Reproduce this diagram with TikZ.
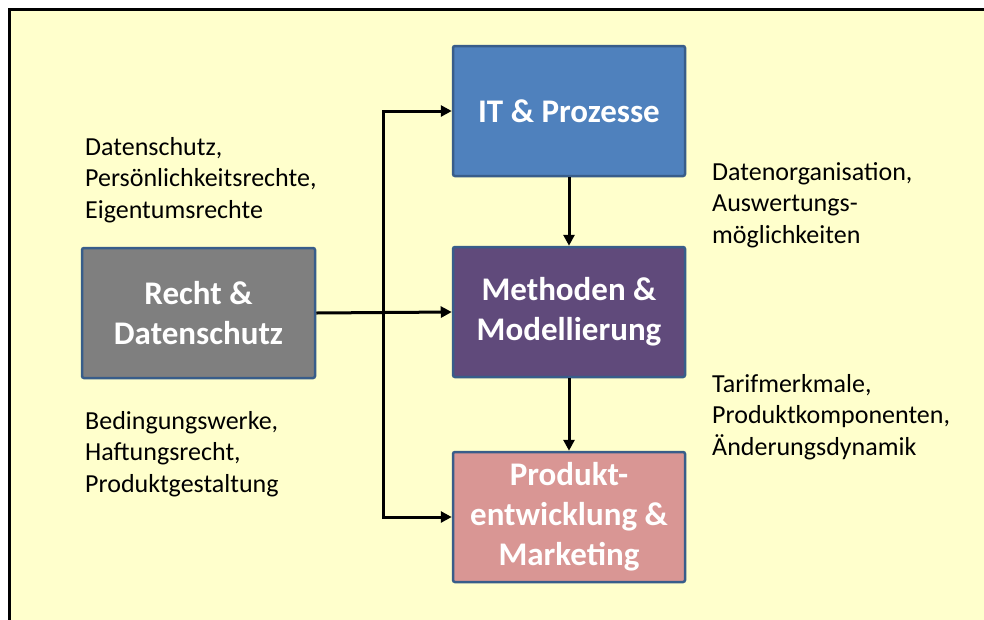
\documentclass[tikz,border=0pt]{standalone}
\usepackage{fontspec}
\setmainfont{Carlito}
\usetikzlibrary{arrows.meta}
\definecolor{bgyellow}{HTML}{FFFFCC}
\definecolor{boxline}{HTML}{385D8A}
\definecolor{itblue}{HTML}{4F81BD}
\definecolor{methpurple}{HTML}{604A7B}
\definecolor{prodrose}{HTML}{D99694}
\definecolor{rechtgray}{HTML}{7F7F7F}
\tikzset{
  mainbox/.style={draw=boxline, line width=2.5pt, rounded corners=2pt,
    minimum width=232pt, minimum height=130pt, inner sep=0pt,
    text=white, align=center, font=\fontsize{33}{40}\selectfont\bfseries},
  note/.style={anchor=west, align=left, inner sep=0pt, text=black,
    font=\fontsize{26}{31.5}\selectfont},
  conn/.style={line width=3pt, draw=black},
  tip/.style={-{Triangle[length=11pt,width=11pt]}}
}
\begin{document}
\begin{tikzpicture}[x=1pt,y=-1pt]
\useasboundingbox (0,0) rectangle (984,619);
\fill[white] (0,0) rectangle (984,619);
\begin{scope}
\clip (0,0) rectangle (984,619);
\draw[fill=bgyellow, line width=3pt] (9.5,9.5) rectangle (1100,700);
\end{scope}

\node[mainbox, fill=itblue] (it) at (569,111) {IT \& Prozesse};
\node[mainbox, fill=methpurple] (meth) at (569,312) {\raisebox{-3pt}{\parbox{230pt}{\centering Methoden \&\\Modellierung}}};
\node[mainbox, fill=prodrose] (prod) at (569,517) {Produkt-\\entwicklung \&\\Marketing};
\node[mainbox, fill=rechtgray, minimum width=233pt] (recht) at (198.5,313) {\raisebox{-3pt}{\parbox{230pt}{\centering Recht \&\\Datenschutz}}};

\node[note] (n1) at (85,180) {Datenschutz,\\Persönlichkeitsrechte,\\Eigentumsrechte};
\node[note] (n2) at (85,454) {Bedingungswerke,\\Haftungsrecht,\\Produktgestaltung};
\node[note] (n3) at (712,205) {Datenorganisation,\\Auswertungs-\\möglichkeiten};
\node[note] (n4) at (712,417) {Tarifmerkmale,\\Produktkomponenten,\\Änderungsdynamik};

\coordinate (jt) at (383,111);
\coordinate (jb) at (383,517);
\draw[conn, {Triangle[length=11pt,width=11pt]}-{Triangle[length=11pt,width=11pt]}, line join=miter]
  (it.west) -- (jt) -- (jb) -- (prod.west);
\draw[conn, tip] (recht.east) -- (meth.west);
\draw[conn, tip] (it.south) -- (meth.north);
\draw[conn, tip] (meth.south) -- (prod.north);
\end{tikzpicture}
\end{document}
